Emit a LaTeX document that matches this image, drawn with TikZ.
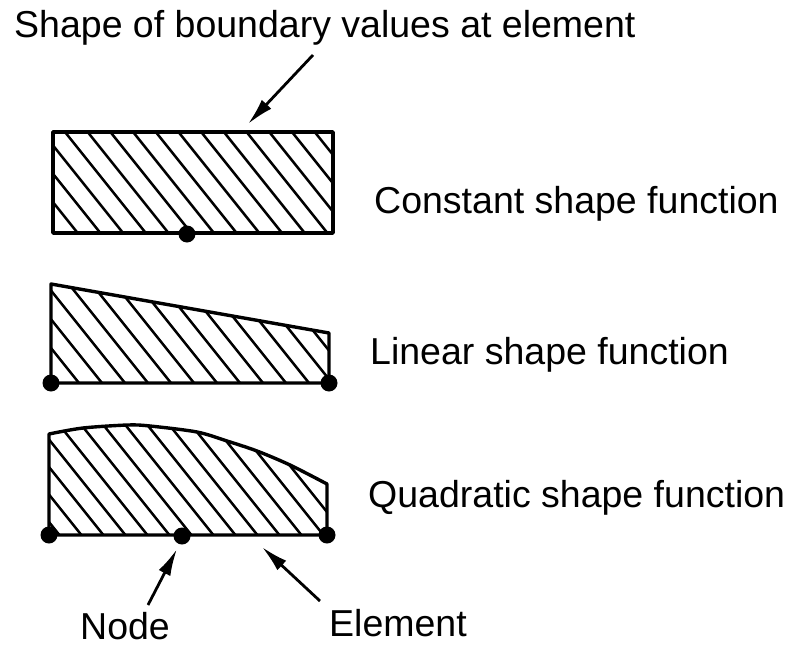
\documentclass[tikz,border=0pt]{standalone}
\usepackage{fontspec}
\setmainfont{Liberation Sans}
\usetikzlibrary{arrows.meta}
\begin{document}
\begin{tikzpicture}[x=1pt,y=-1pt,
  outline/.style={line width=3.4pt, line join=round, line cap=round},
  hatch/.style={line width=2.5pt},
  dot/.style={circle, fill=black, inner sep=0pt, minimum size=17pt},
  lbl/.style={font=\fontsize{37.5}{40}\selectfont, inner sep=0pt, anchor=base west},
  arr/.style={line width=2.8pt, -{Latex[length=27pt,width=13pt]}}]
\useasboundingbox (0,0) rectangle (788,648);

% ---------- constant shape ----------
\begin{scope}
  \clip (53,132) rectangle (333,233);
  \foreach \k in {-10,...,14}
    \draw[hatch] ({65+\k*22.7-160},{132-200}) -- ++(320,400);
\end{scope}
\draw[outline] (53,132) rectangle (333,233);
\node[dot] (n1) at (187,234) {};

% ---------- linear shape ----------
\begin{scope}
  \clip (51,284) -- (329,333) -- (329,383) -- (51,383) -- cycle;
  \foreach \k in {-8,...,14}
    \draw[hatch] ({72+\k*23-160},{288-200}) -- ++(320,400);
\end{scope}
\draw[outline] (51,284) -- (329,333) -- (329,383) -- (51,383) -- cycle;
\node[dot] (n2) at (51,383) {};
\node[dot] (n3) at (329,383) {};

% ---------- quadratic shape ----------
\begin{scope}
  \clip (49,535) -- plot[smooth] coordinates {(49,434) (83,428) (128,425) (150,426) (197,432) (227,441) (257,451) (290,465) (327,484)} -- (327,535) -- cycle;
  \foreach \k in {-8,...,15}
    \draw[hatch] ({65+\k*22-160},{432-200}) -- ++(320,400);
\end{scope}
\draw[outline] (49,535) -- plot[smooth] coordinates {(49,434) (83,428) (128,425) (150,426) (197,432) (227,441) (257,451) (290,465) (327,484)} -- (327,535) -- cycle;
\node[dot] (n4) at (49,535) {};
\node[dot] (n5) at (182,536) {};
\node[dot] (n6) at (327,535) {};

% ---------- labels ----------
\node[lbl] (title) at (14,37) {Shape of boundary values at element};
\node[lbl] (const) at (374,213) {Constant shape function};
\node[lbl] (lin) at (370,364) {Linear shape function};
\node[lbl] (quad) at (368,507) {Quadratic shape function};
\node[lbl] (node) at (80,639) {Node};
\node[lbl] (elem) at (329,636) {Element};

% ---------- arrows ----------
\coordinate (tA) at (313,55);
\coordinate (tB) at (248,124);
\draw[arr] (tA) -- (tB);
\coordinate (nA) at (148,605);
\coordinate (nB) at (177,549);
\draw[arr] (nA) -- (nB);
\coordinate (eA) at (320,601);
\coordinate (eB) at (262,547);
\draw[arr] (eA) -- (eB);
\end{tikzpicture}
\end{document}
